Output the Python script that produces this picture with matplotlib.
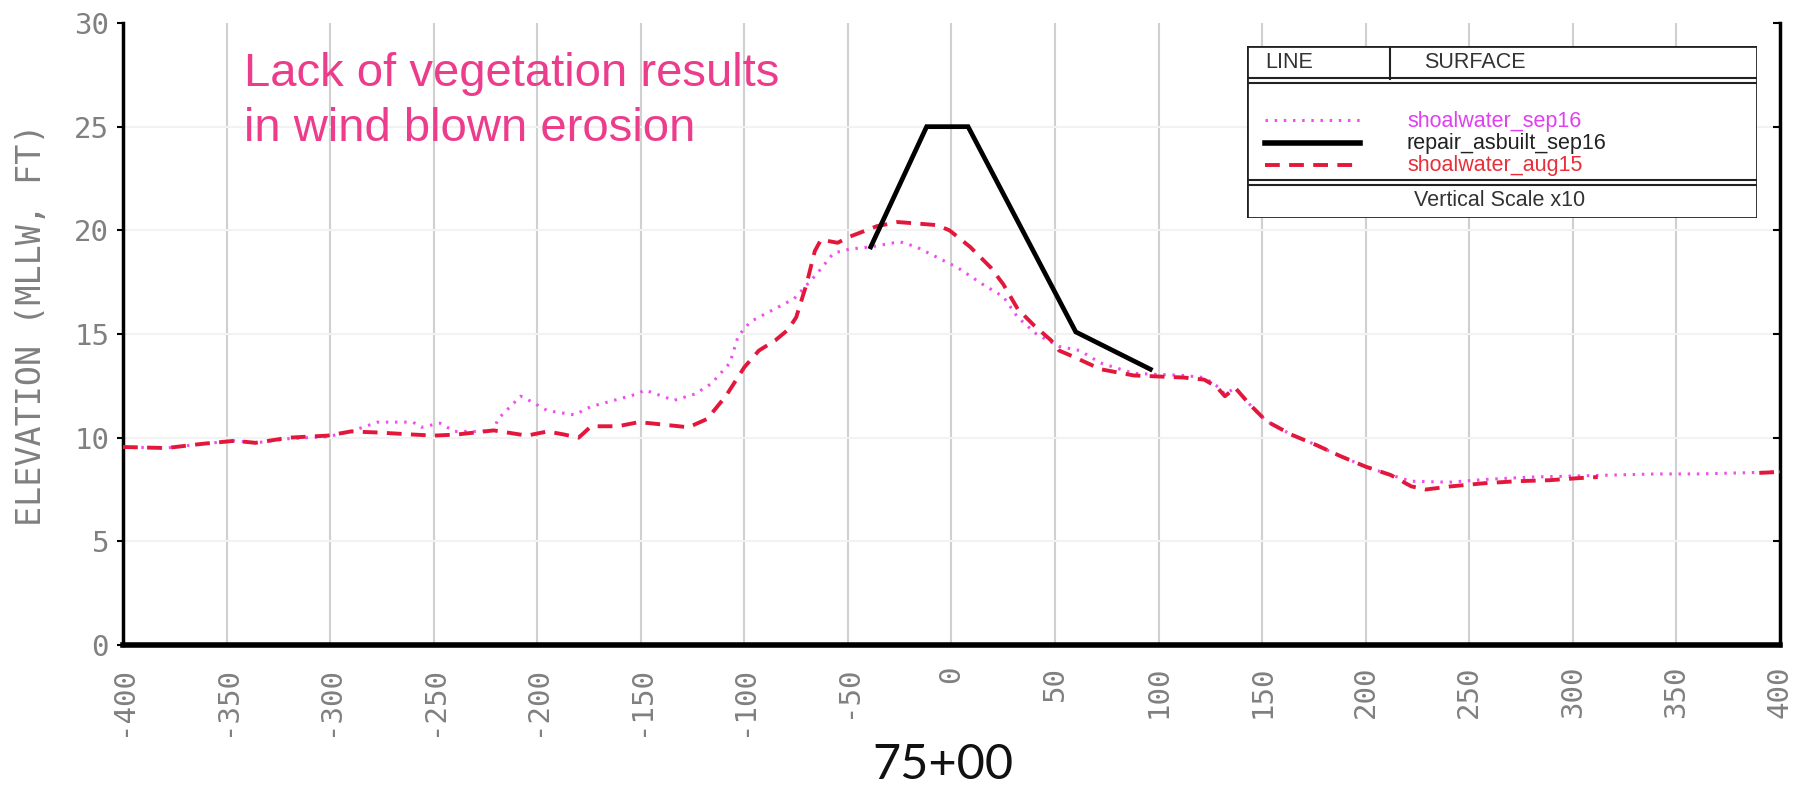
import numpy as np
import matplotlib
matplotlib.use("Agg")
import matplotlib.pyplot as plt
from matplotlib.patches import Rectangle

# station offset (ft) and elevation (MLLW, ft)
aug15_x = [-400, -379, -362, -346, -336, -320, -301, -290, -277, -260, -250, -239,
           -221, -205, -195, -187, -180, -174, -161, -151, -141, -127, -118, -109,
           -100, -93, -85, -79, -75, -70, -66, -63, -55, -49, -36, -26, -13, -7,
           -1, 9, 19, 25, 32, 40, 48, 52, 59, 72, 88, 112, 122, 128, 132, 137,
           144, 152, 164, 176, 188, 200, 212, 222, 229, 241, 257, 273, 289, 303,
           312, 350, 390, 400]
aug15_y = [9.55, 9.5, 9.7, 9.85, 9.75, 10.0, 10.1, 10.3, 10.25, 10.15, 10.1, 10.15,
           10.35, 10.1, 10.3, 10.15, 10.0, 10.55, 10.55, 10.75, 10.65, 10.5, 10.9, 12.0,
           13.4, 14.2, 14.7, 15.2, 15.8, 17.4, 19.0, 19.55, 19.4, 19.7, 20.2, 20.4, 20.3, 20.25,
           20.0, 19.2, 18.2, 17.4, 16.2, 15.4, 14.7, 14.2, 13.9, 13.3, 13.0, 12.9, 12.8, 12.45,
           12.0, 12.4, 11.6, 10.8, 10.15, 9.65, 9.1, 8.6, 8.2, 7.65, 7.5, 7.65, 7.8, 7.9,
           7.95, 8.05, 8.1, np.nan, 8.3, 8.35]

sep16_x = [-400, -379, -362, -346, -336, -320, -301, -290, -277, -260, -256, -247,
           -240, -230, -221, -219, -208, -204, -195, -182, -174, -163, -152, -148,
           -141, -134, -124, -116, -107, -103, -97, -76, -65, -57, -49, -39, -25,
           -17, -7, 3, 15, 25, 32, 41, 52, 62, 72, 88, 112, 122, 128, 132, 137,
           144, 152, 164, 176, 188, 200, 212, 222, 240, 260, 280, 300, 320, 340,
           360, 380, 400]
sep16_y = [9.55, 9.5, 9.7, 9.85, 9.75, 9.95, 10.05, 10.3, 10.75, 10.75, 10.5, 10.7,
           10.3, 10.3, 10.35, 10.9, 12.0, 11.8, 11.3, 11.1, 11.5, 11.8, 12.1, 12.3,
           12.05, 11.8, 12.1, 12.6, 13.6, 14.9, 15.6, 16.7, 17.9, 18.9, 19.1, 19.2, 19.45,
           19.2, 18.7, 18.2, 17.4, 16.8, 15.8, 15.0, 14.4, 14.2, 13.6, 13.1, 13.0, 12.9, 12.5,
           12.1, 12.4, 11.6, 10.8, 10.15, 9.65, 9.1, 8.6, 8.2, 7.9, 7.85, 8.0, 8.1,
           8.15, 8.2, 8.25, 8.25, 8.3, 8.35]

repair_x = [-39, -12, 8, 60, 96]
repair_y = [19.2, 25.0, 25.0, 15.1, 13.3]

x_ticks = list(range(-400, 401, 50))
y_ticks = [0, 5, 10, 15, 20, 25, 30]

MAGENTA = "#f04cf0"
RED = "#e3173c"
PINK = "#ec3c8c"
GRAY = "#808080"
MONO = "DejaVu Sans Mono"

fig = plt.figure(figsize=(18.06, 7.85), dpi=100)
ax = fig.add_axes([123 / 1806, 1 - 645 / 785, (1780 - 123) / 1806, (645 - 23) / 785])

ax.plot(sep16_x, sep16_y, color=MAGENTA, lw=2.2, dashes=(0.8, 2.2), zorder=3)
ax.plot(repair_x, repair_y, color="black", lw=3.4, solid_joinstyle="miter", zorder=4)
ax.plot(aug15_x, aug15_y, color=RED, lw=2.8, dashes=(3.8, 2.4), zorder=3)

ax.set_xlim(-400, 400)
ax.set_ylim(0, 30)
ax.set_xticks(x_ticks)
ax.set_yticks(y_ticks)
ax.set_xticklabels([str(v) for v in x_ticks], rotation=90, va="top",
                   fontfamily=MONO, fontsize=21, color=GRAY)
ax.set_yticklabels([str(v) for v in y_ticks], fontfamily=MONO, fontsize=21, color=GRAY)
ax.tick_params(axis="x", length=0, pad=15)
ax.tick_params(axis="y", direction="out", length=4, width=1.5, pad=6, color="black")

for v in x_ticks[1:-1]:
    ax.axvline(v, color="#d0d0d0", lw=1.5, zorder=1)
for v in y_ticks[1:-1]:
    ax.axhline(v, color="#f2f2f2", lw=1.5, zorder=1)

ax.spines["top"].set_visible(False)
ax.spines["left"].set_linewidth(2.5)
ax.spines["right"].set_linewidth(2.5)
ax.spines["bottom"].set_linewidth(4)

ax2 = ax.twinx()
ax2.set_ylim(0, 30)
ax2.set_yticks(y_ticks)
ax2.set_yticklabels([])
ax2.tick_params(axis="y", direction="in", length=5, width=1.5)
for s in ax2.spines.values():
    s.set_visible(False)

fig.text(32 / 1806, 1 - 325 / 785, "ELEVATION (MLLW, FT)", rotation=90,
         ha="center", va="center", fontfamily=MONO, fontsize=24, color=GRAY)
fig.text(943 / 1806, 1 - 779 / 785, "75+00", ha="center", va="baseline",
         fontfamily="Lato", fontsize=35, color="#111111")
fig.text(244 / 1806, 1 - 86 / 785, "Lack of vegetation results", ha="left",
         va="baseline", fontfamily="Liberation Sans", fontsize=34, color=PINK)
fig.text(244 / 1806, 1 - 141 / 785, "in wind blown erosion", ha="left",
         va="baseline", fontfamily="Liberation Sans", fontsize=34, color=PINK)

# legend table, drawn in its own pixel-like coordinate box
lg = fig.add_axes([1247 / 1806, 1 - 218 / 785, 510 / 1806, 172 / 785])
lg.set_xlim(0, 510)
lg.set_ylim(172, 0)
lg.axis("off")
lg.add_patch(Rectangle((0, 0), 510, 172, facecolor="white", edgecolor="#222222", lw=2))
lg.plot([143, 143], [0, 33], color="#222222", lw=1.5)
for yy in (32, 37, 134, 139):
    lg.plot([0, 510], [yy, yy], color="#222222", lw=1.5)
lt = dict(fontfamily="Liberation Sans", fontsize=15.5, va="center")
lg.text(18, 17, "LINE", color="#333333", **lt)
lg.text(177, 17, "SURFACE", color="#333333", **lt)
lg.plot([18, 113], [74, 74], color=MAGENTA, lw=2.2, dashes=(0.8, 2.2))
lg.plot([18, 113], [97, 97], color="black", lw=4)
lg.plot([18, 113], [119, 119], color=RED, lw=2.8, dashes=(3.8, 2.4))
lg.text(160, 75, "shoalwater_sep16", color="#e040f0", **lt)
lg.text(160, 98, "repair_asbuilt_sep16", color="#222222", **lt)
lg.text(160, 119, "shoalwater_aug15", color="#e8303a", **lt)
lg.text(253, 155, "Vertical Scale x10", ha="center", color="#333333",
        fontfamily="Liberation Sans", fontsize=15.5, va="center")

fig.savefig("out.png", dpi=100)
